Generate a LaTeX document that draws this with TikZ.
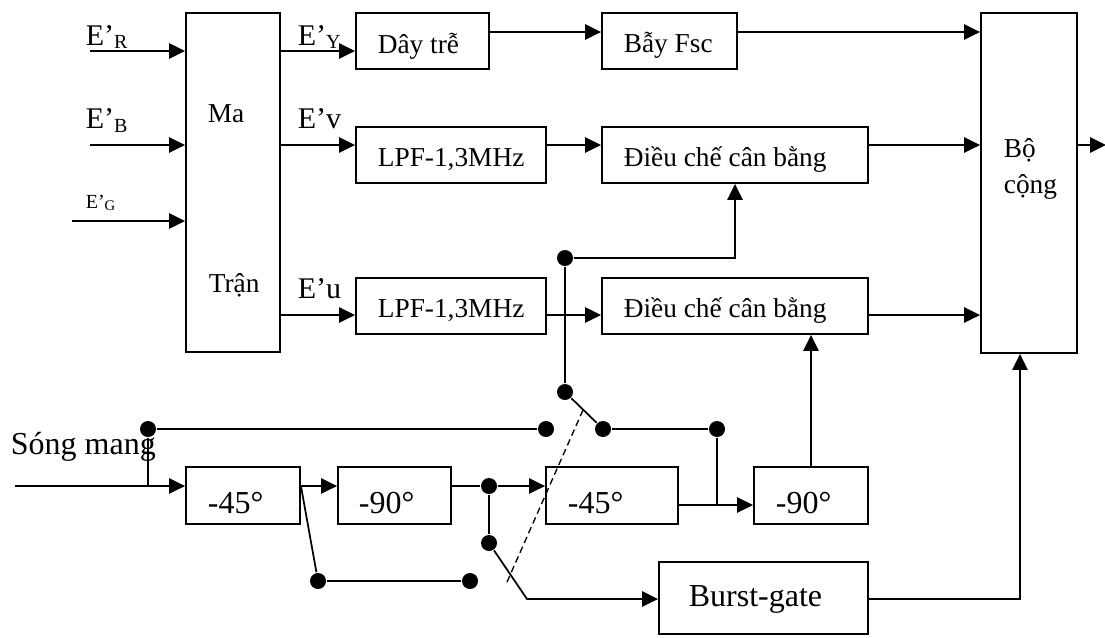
\documentclass[tikz,border=0pt]{standalone}
\usepackage{fontspec}
\setmainfont{Liberation Serif}
\usetikzlibrary{arrows.meta,fit}
\begin{document}
\begin{tikzpicture}[x=0.75pt,y=-0.75pt,
  line width=1.3pt,
  box/.style={draw, line width=1.4pt, inner sep=0pt},
  lbl/.style={anchor=base west, inner sep=0pt, font=\fontsize{20.5pt}{24pt}\selectfont},
  big/.style={anchor=base west, inner sep=0pt, font=\fontsize{24pt}{28pt}\selectfont},
  elbl/.style={anchor=base west, inner sep=0pt, font=\fontsize{22.5pt}{26pt}\selectfont},
  esm/.style={anchor=base west, inner sep=0pt, font=\fontsize{15pt}{18pt}\selectfont},
  arr/.style={-{Triangle[length=12pt,width=11.5pt]}},
  dot/.style={circle, fill, inner sep=0pt, minimum size=12pt},
  swdash/.style={line width=1pt, dash pattern=on 5pt off 3pt}]
\useasboundingbox (0,0) rectangle (1105,637);

% boxes
\node[box, fit={(186,13) (280,352)}] (matran) {};
\node[box, fit={(356,13) (489,69)}] (dtre) {};
\node[box, fit={(602,13) (737,69)}] (bay) {};
\node[box, fit={(356,127) (546,183)}] (lpfa) {};
\node[box, fit={(602,127) (868,183)}] (dca) {};
\node[box, fit={(356,278) (546,334)}] (lpfb) {};
\node[box, fit={(602,278) (868,334)}] (dcb) {};
\node[box, fit={(981,13) (1077,353)}] (bocong) {};
\node[box, fit={(186,467) (300,524)}] (pa) {};
\node[box, fit={(338,467) (451,524)}] (pb) {};
\node[box, fit={(546,467) (678,524)}] (pc) {};
\node[box, fit={(754,467) (868,524)}] (pd) {};
\node[box, fit={(659,562) (868,634)}] (burst) {};

% texts
\node[lbl] (tma) at (207,122) {Ma};
\node[lbl] (ttran) at (208,292) {Trận};
\node[lbl] (tdtre) at (377,53) {Dây trễ};
\node[lbl] (tbay) at (623,52) {Bẫy Fsc};
\node[lbl] (tlpfa) at (377,166) {LPF-1,3MHz};
\node[lbl] (tdca) at (623,166) {Điều chế cân bằng};
\node[lbl] (tlpfb) at (377,317) {LPF-1,3MHz};
\node[lbl] (tdcb) at (623,317) {Điều chế cân bằng};
\node[lbl] (tbo) at (1003,157) {Bộ};
\node[lbl] (tcong) at (1003,193) {cộng};
\node[big] (tpa) at (207,513) {-45°};
\node[big] (tpb) at (358,513) {-90°};
\node[big] (tpc) at (567,513) {-45°};
\node[big] (tpd) at (775,513) {-90°};
\node[big] (tburst) at (688,606) {Burst-gate};
\node[big] (tsong) at (10,454) {Sóng mang};
\node[elbl] (lR) at (85,45) {E’\raisebox{-2.25pt}{\fontsize{15pt}{15pt}\selectfont R}};
\node[elbl] (lB) at (85,128) {E’\raisebox{-3pt}{\fontsize{15pt}{15pt}\selectfont B}};
\node[esm] (lG) at (85,208) {E’\raisebox{-1.5pt}{\fontsize{11pt}{11pt}\selectfont G}};
\node[elbl] (lY) at (297,45) {E’\raisebox{-2.25pt}{\fontsize{15pt}{15pt}\selectfont Y}};
\node[elbl] (lv) at (297,128) {E’v};
\node[elbl] (lu) at (297,298) {E’u};

% helper rows
\coordinate (inR) at (90,51);
\coordinate (inB) at (90,145);
\coordinate (inG) at (72,221);
\coordinate (yU) at (0,315);
\coordinate (yT) at (0,32);
\coordinate (yQ) at (0,505);
\coordinate (out) at (1106,145);

% upper connectors
\draw[arr] (inR) -- (inR -| matran.west);
\draw[arr] (inB) -- (inB -| matran.west);
\draw[arr] (inG) -- (inG -| matran.west);
\draw[arr] (matran.east |- inR) -- (dtre.west |- inR);
\draw[arr] (matran.east |- inB) -- (lpfa.west |- inB);
\draw[arr] (matran.east |- yU) -- (lpfb.west |- yU);
\draw[arr] (dtre.east |- yT) -- (bay.west |- yT);
\draw[arr] (bay.east |- yT) -- (bocong.west |- yT);
\draw[arr] (lpfa.east |- inB) -- (dca.west |- inB);
\draw[arr] (dca.east |- inB) -- (bocong.west |- inB);
\draw[arr] (lpfb.east |- yU) -- (dcb.west |- yU);
\draw[arr] (dcb.east |- yU) -- (bocong.west |- yU);
\draw[arr] (bocong.east |- inB) -- (out);

% lower part
\coordinate (sin) at (15,486);
\coordinate (j1) at (148,486);
\node[dot] (d1) at (148,429) {};
\node[dot] (d2) at (546,429) {};
\node[dot] (d3) at (318,581) {};
\node[dot] (d4) at (470,581) {};
\node[dot] (d5) at (489,486) {};
\node[dot] (d6) at (489,543) {};
\node[dot] (d7) at (565,392) {};
\node[dot] (d8) at (603,429) {};
\node[dot] (d9) at (565,258) {};
\node[dot] (d10) at (717,429) {};
\coordinate (k1) at (527,599);
\coordinate (k2) at (735,258);
\coordinate (k3) at (1020,599);
\coordinate (s1) at (507,582);
\coordinate (s2) at (583,410);

\draw[arr] (sin) -- (sin -| pa.west);
\draw (j1) -- (d1);
\draw (d1) -- (d2);
\draw[arr] (pa.east |- sin) -- (pb.west |- sin);
\draw (pa.east |- sin) -- (d3);
\draw (d3) -- (d4);
\draw (pb.east |- sin) -- (d5);
\draw[arr] (d5) -- (pc.west |- sin);
\draw (d5) -- (d6);
\draw[arr] (d6) -- (k1) -- (k1 -| burst.west);
\draw (d7) -- (d8);
\draw (d7) -- (d9);
\draw[arr] (d9) -- (k2) -- (k2 |- dca.south);
\draw (d8) -- (d10);
\draw (d10) -- (d10 |- yQ);
\draw[arr] (pc.east |- yQ) -- (pd.west |- yQ);
\draw[arr] (pd.north) -- (pd.north |- dcb.south);
\draw[arr] (burst.east |- k1) -- (k3) -- (k3 |- bocong.south);
\draw[swdash] (s1) -- (s2);
\end{tikzpicture}
\end{document}
